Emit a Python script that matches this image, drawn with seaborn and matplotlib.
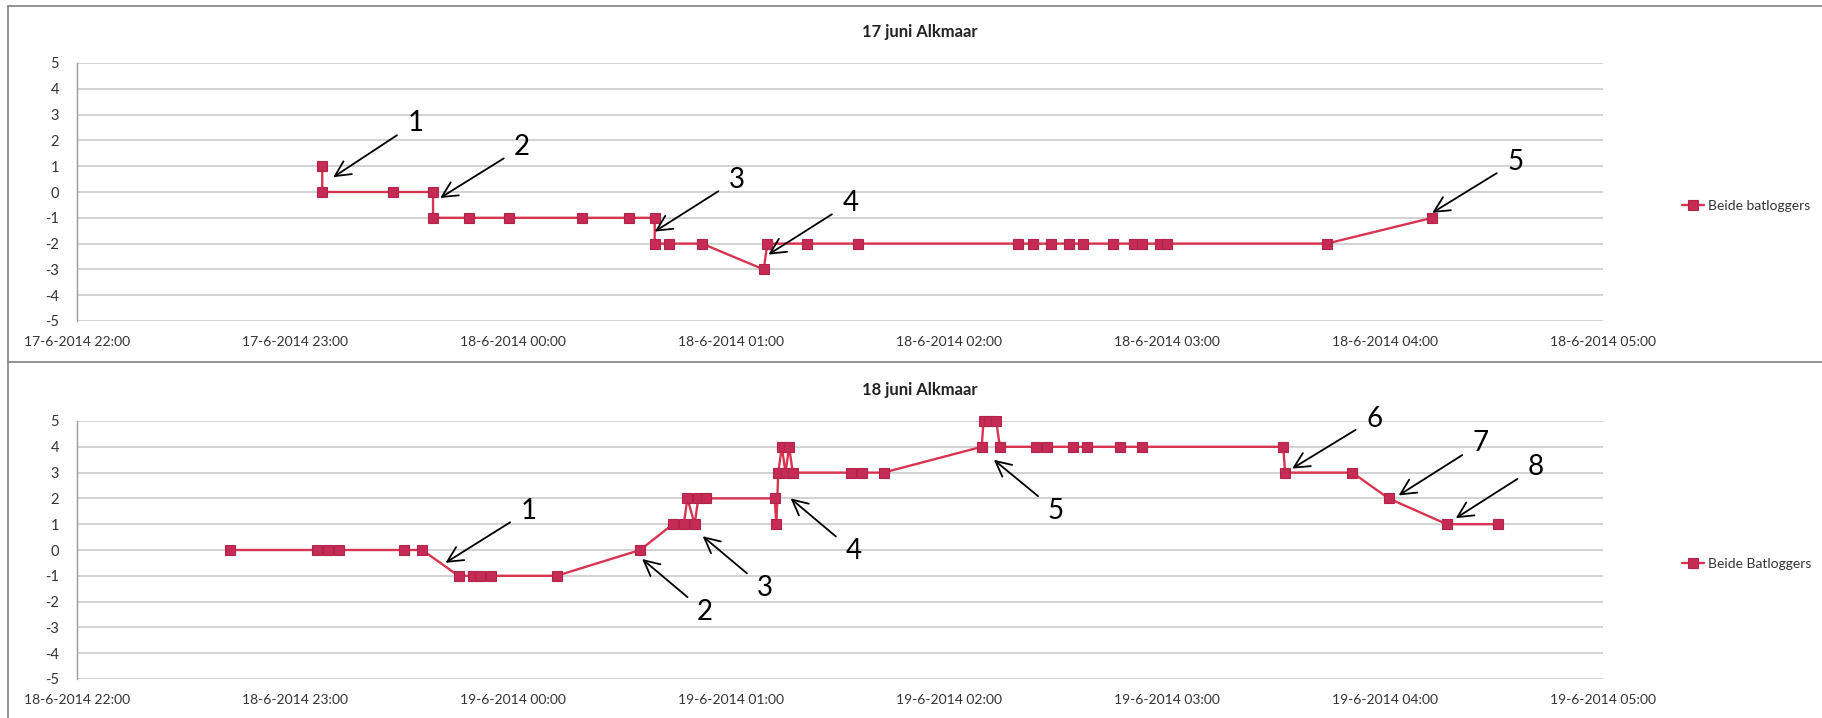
import matplotlib
matplotlib.use("Agg")
import matplotlib.pyplot as plt
import matplotlib.dates as mdates
import matplotlib.transforms as mtransforms
from matplotlib.lines import Line2D
from matplotlib.ticker import FuncFormatter
import pandas as pd
import seaborn as sns

# --- Metingen nacht 17 -> 18 juni ---
tijden_17 = ["23:07:30", "23:07:30", "23:27", "23:38", "23:38", "23:48", "23:59",
             "00:19", "00:32", "00:39", "00:39", "00:43", "00:52", "01:09", "01:10",
             "01:21", "01:35", "02:19", "02:23", "02:28", "02:33", "02:37", "02:45",
             "02:51", "02:53", "02:58", "03:00", "03:44", "04:13"]
waarden_17 = [1, 0, 0, 0, -1, -1, -1,
              -1, -1, -1, -2, -2, -2, -3, -2,
              -2, -2, -2, -2, -2, -2, -2, -2,
              -2, -2, -2, -2, -2, -1]

# --- Metingen nacht 18 -> 19 juni ---
tijden_18 = ["22:42", "23:06", "23:09", "23:12", "23:30", "23:35", "23:45", "23:49",
             "23:51", "23:54", "00:12", "00:35", "00:44", "00:47", "00:48", "00:50",
             "00:51", "00:53", "01:12", "01:12:30", "01:13", "01:14", "01:15", "01:16",
             "01:17", "01:33", "01:36", "01:42", "02:09", "02:09:30", "02:11", "02:13",
             "02:14", "02:24", "02:27", "02:34", "02:38", "02:47", "02:53", "03:32",
             "03:32:30", "03:51", "04:01", "04:17", "04:31"]
waarden_18 = [0, 0, 0, 0, 0, 0, -1, -1,
              -1, -1, -1, 0, 1, 1, 2, 1,
              2, 2, 2, 1, 3, 4, 3, 4,
              3, 3, 3, 3, 4, 5, 5, 5,
              4, 4, 4, 4, 4, 4, 4, 4,
              3, 3, 2, 1, 1]

startdata = ["2014-06-17", "2014-06-18"]
titels = ["17 juni Alkmaar", "18 juni Alkmaar"]
legendas = ["Beide batloggers", "Beide Batloggers"]

# genummerde pijlen: (label, index van het meetpunt)
pijlen_17 = [("1", 0), ("2", 3), ("3", 10), ("4", 14), ("5", 28)]
pijlen_18 = [("1", 6), ("2", 11), ("3", 15), ("4", 18), ("5", 32),
             ("6", 40), ("7", 42), ("8", 43)]

# plaatsing van de pijlen in pixels: punt-offset (dx, dy) en tekst-offset (tx, ty)
pijl_layout_17 = [(11, -11, 82, 54), (7, -6, 82, 51), (0, 12, 82, 52),
                  (1, -11, 82, 52), (0, 5, 83, 51)]
pijl_layout_18 = [(-13, 13, 83, 52), (2, -9, 63, -53), (8, -12, 62, -52),
                  (16, 0, 63, -53), (-6, -13, 62, -51), (7, 4, 82, 50),
                  (10, 3, 82, 52), (9, 6, 80, 51)]


def naar_tijdstempels(start, tijden):
    out = []
    for t in tijden:
        ts = pd.Timestamp(f"{start} {t}")
        if ts.hour < 12:
            ts += pd.Timedelta(days=1)
        out.append(ts)
    return out


sns.set_style("white")
plt.rcParams["font.family"] = ["Lato", "DejaVu Sans"]
plt.rcParams["axes.unicode_minus"] = False

W, H = 1822, 718
fig = plt.figure(figsize=(W / 100, H / 100), dpi=100)
fig.patch.set_facecolor("white")

LIJN = "#d8344f"
MARKER = "#c42c55"
MARKER_RAND = "#b3244a"
TEKST = "#333333"
RASTER = "#cfcfcf"

panelen = [
    (tijden_17, waarden_17, pijlen_17, pijl_layout_17, 321),
    (tijden_18, waarden_18, pijlen_18, pijl_layout_18, 679),
]
titel_y = [32, 390]

for i, (tijden, waarden, pijlen, layout, onder_px) in enumerate(panelen):
    ax = fig.add_axes([77 / W, 1 - onder_px / H, 1526 / W, 258 / H])
    df = pd.DataFrame({"tijd": naar_tijdstempels(startdata[i], tijden),
                       "waarde": waarden})

    sns.lineplot(data=df, x="tijd", y="waarde", sort=False, estimator=None,
                 marker="s", markersize=7.5, color=LIJN, linewidth=1.7,
                 markerfacecolor=MARKER, markeredgecolor=MARKER_RAND,
                 markeredgewidth=0.8, label=legendas[i], ax=ax, zorder=3,
                 clip_on=False)

    begin = pd.Timestamp(f"{startdata[i]} 22:00")
    ax.set_xlim(begin, begin + pd.Timedelta(hours=7))
    ax.set_ylim(-5, 5)
    ax.set_yticks(range(-5, 6))
    ax.xaxis.set_major_locator(mdates.HourLocator())

    def fmt(x, pos):
        d = mdates.num2date(x)
        return f"{d.day}-{d.month}-{d.year} {d:%H:%M}"

    ax.xaxis.set_major_formatter(FuncFormatter(fmt))
    ax.set_xlabel("")
    ax.set_ylabel("")

    ax.yaxis.grid(True, color=RASTER, linewidth=1.3)
    ax.xaxis.grid(False)
    for s in ["top", "right", "bottom"]:
        ax.spines[s].set_visible(False)
    ax.spines["left"].set_color("#9a9a9a")
    ax.spines["left"].set_linewidth(1.0)
    ax.tick_params(axis="both", length=0, labelsize=10, labelcolor=TEKST)
    ax.tick_params(axis="y", pad=13, labelsize=10.5)
    ax.tick_params(axis="x", pad=11)

    leg = ax.legend(loc="center left", bbox_to_anchor=(1.0517, 0.445),
                    frameon=False, handlelength=1.6, handletextpad=0.25,
                    borderaxespad=0, borderpad=0, fontsize=10, markerscale=0.9)
    for t in leg.get_texts():
        t.set_color(TEKST)

    for (lab, idx), (dx, dy, tx, ty) in zip(pijlen, layout):
        trans = mtransforms.offset_copy(ax.transData, fig=fig, x=dx, y=dy,
                                        units="dots")
        ax.annotate(lab, xy=(mdates.date2num(df["tijd"][idx]), df["waarde"][idx]),
                    xycoords=trans, xytext=(tx, ty), textcoords="offset pixels",
                    ha="center", va="center", fontsize=20, color="black",
                    annotation_clip=False, zorder=5,
                    arrowprops=dict(arrowstyle="->,head_length=1.1,head_width=0.55",
                                    color="black", lw=1.3, shrinkA=6, shrinkB=0,
                                    mutation_scale=10))

    fig.text(920 / W, 1 - titel_y[i] / H, titels[i], ha="center", va="center",
             fontsize=12, fontweight="bold", color="#222222")

# kaders rond de twee grafieken
kader = dict(color="#808080", linewidth=1.2, transform=fig.transFigure)
fig.add_artist(Line2D([8 / W, 1], [1 - 6 / H, 1 - 6 / H], **kader))
fig.add_artist(Line2D([8 / W, 1], [1 - 362 / H, 1 - 362 / H], **kader))
fig.add_artist(Line2D([8 / W, 8 / W], [0, 1 - 6 / H], **kader))

fig.savefig("out.png", dpi=100, facecolor="white")
